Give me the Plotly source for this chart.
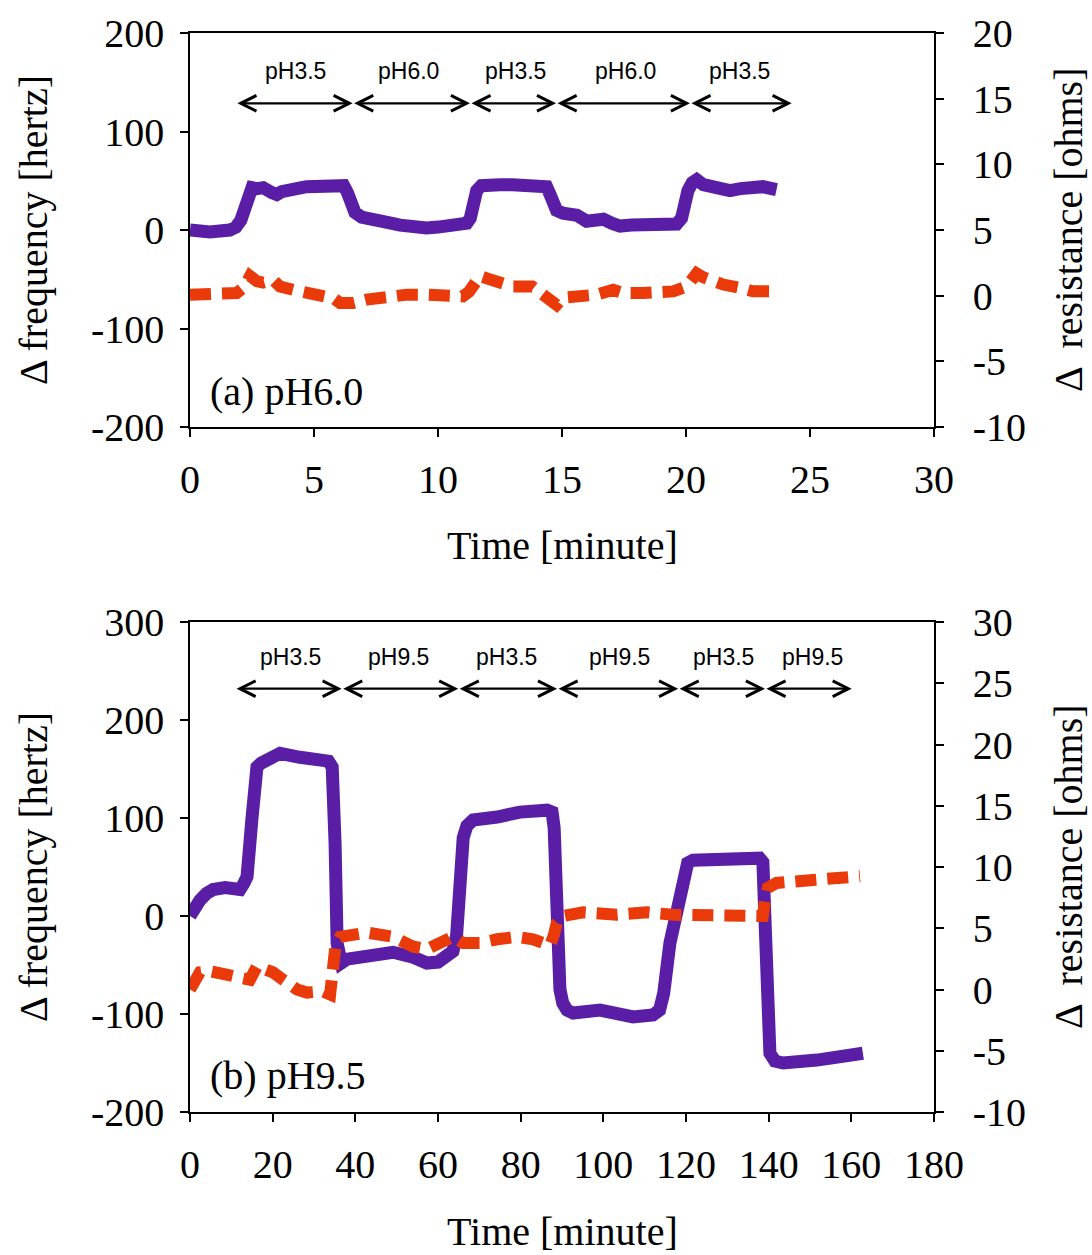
import plotly.graph_objects as go

# ---------------- Data ----------------
# Panel (a): pH6.0 baseline
time_a_freq = [0, 0.8, 1.6, 1.85, 2.05, 2.2, 2.35, 2.5, 2.7, 2.95, 3.3, 3.5, 3.7, 3.9, 4.3, 4.7,
               5.0, 5.37, 5.7, 6.05, 6.2, 6.35, 6.5, 6.65, 6.92, 7.3, 7.66, 8.1, 8.47, 9.0, 9.54,
               10.0, 10.35, 10.8, 11.16, 11.3, 11.42, 11.56, 11.75, 11.96, 12.5, 13.0, 13.6, 14.2,
               14.38, 14.52, 14.65, 14.78, 15.04, 15.3, 15.6, 15.99, 16.3, 16.67, 17.0, 17.34,
               17.8, 18.55, 19.2, 19.62, 19.82, 19.95, 20.08, 20.25, 20.43, 20.7, 20.97, 21.4,
               21.77, 22.2, 22.58, 23.1, 23.65]
freq_a = [0, -2, 0, 3, 10, 19, 32, 43, 42, 43, 38, 36, 39, 41, 42, 44,
          44, 46, 45, 47, 45, 38, 27, 18, 13, 12, 9, 7, 5, 3, 2,
          3, 5, 6, 7, 12, 25, 40, 45, 46, 46, 46, 46, 47,
          44, 36, 26, 20, 17, 17, 15, 9, 10, 11, 7, 4,
          5, 5, 5, 6, 12, 28, 40, 48, 51, 46, 44, 42,
          40, 42, 44, 44, 41]

time_a_res = [0, 0.67, 1.08, 1.6, 1.88, 2.2, 2.42, 2.7, 2.95, 3.35, 3.63, 4.16, 4.84, 5.5, 5.8, 6.05,
              6.58, 7.12, 7.93, 8.74, 9.54, 10.35, 11.0, 11.25, 11.5, 11.69, 12.0, 12.37, 13.0, 13.8,
              14.2, 14.5, 14.78, 15.04, 15.85, 16.4, 17.06, 17.47, 18.27, 18.95, 19.48, 20.03,
              20.25, 20.43, 20.7, 20.97, 21.5, 22.18, 22.7, 23.4]
res_a = [0.08, 0.08, 0.08, 0.1, 0.2, 0.7, 1.5, 1.1, 1.0, 1.2, 0.7, 0.45, 0.2, 0.08, -0.2, -0.55,
         -0.55, -0.3, -0.05, 0.08, 0.08, -0.05, -0.05, 0.3, 0.9, 1.5, 1.3, 1.0, 0.7, 0.7,
         0.2, -0.3, -0.7, -0.15, -0.05, 0.08, 0.45, 0.2, 0.2, 0.33, 0.33, 0.7,
         1.2, 1.7, 1.4, 1.2, 0.85, 0.6, 0.33, 0.33]

# Panel (b): pH9.5 baseline
time_b_freq = [0, 1.0, 2.4, 4.0, 5.6, 8.5, 12.1, 13.0, 13.8, 15.0, 16.2, 17.2, 18.6, 21.8, 26.6,
               31.5, 33.5, 34.4, 34.8, 35.1, 35.6, 36.0, 36.6, 38.0, 42.8, 49.1, 54.0, 57.3, 60.0,
               62.2, 63.6, 64.5, 65.3, 66.1, 67.0, 68.5, 74.3, 79.8, 86.4, 87.6, 88.1, 88.8, 89.5,
               90.2, 91.2, 92.7, 99.2, 107.2, 112.0, 113.6, 114.6, 116.1, 117.8, 119.3, 120.4,
               121.7, 132.3, 137.8, 138.6, 139.0, 139.6, 140.3, 141.5, 143.5, 151.7, 162.8]
freq_b = [0, 9, 16, 23, 27, 29, 27, 33, 40, 100, 152, 156, 159, 166, 162,
          159, 158, 152, 120, 74, -28, -42, -48, -44, -40, -37, -42, -48, -47,
          -42, -36, -20, 40, 80, 92, 98, 101, 106, 108, 106, 90, -28, -75,
          -89, -96, -99, -96, -103, -101, -96, -79, -28, 6, 47, 54,
          57, 60, 59, 55, 0, -62, -140, -148, -150, -147, -140]

time_b_res = [0, 1.0, 2.4, 4.8, 10.4, 14.5, 16.2, 20.1, 22.5, 25.9, 28.3, 32.2, 33.9, 34.4, 35.2,
              36.3, 42.8, 49.1, 54.0, 57.3, 60.5, 63.6, 66.1, 70.2, 74.3, 79.1, 83.0, 87.1, 88.0,
              88.7, 90.3, 95.1, 103.2, 110.5, 116.9, 124.2, 132.3, 138.6, 139.1, 139.8, 141.9,
              147.6, 154.0, 162.1]
res_b = [0, 0.8, 1.4, 1.5, 1.1, 0.8, 1.9, 1.4, 0.8, 0, -0.25, -0.15, -0.4, 2.2, 3.6,
         4.3, 4.65, 4.3, 3.5, 3.3, 3.8, 4.3, 3.8, 3.8, 4.1, 4.3, 4.1, 3.6, 4.4,
         5.4, 6.0, 6.3, 6.1, 6.3, 6.1, 6.0, 5.85, 6.0, 7.2, 8.3, 8.7,
         8.85, 9.0, 9.25]

# Phase boundaries (minutes) and labels
phase_a_bounds = [1.85, 6.56, 11.29, 14.76, 20.16, 24.26]
phase_a_labels = ["pH3.5", "pH6.0", "pH3.5", "pH6.0", "pH3.5"]
phase_a_label_t = [4.27, 8.83, 13.14, 17.57, 22.14]
phase_b_bounds = [10.9, 36.7, 64.9, 88.8, 118.1, 139.1, 160.1]
phase_b_labels = ["pH3.5", "pH9.5", "pH3.5", "pH9.5", "pH3.5", "pH9.5"]
phase_b_label_t = [24.2, 50.4, 76.6, 104.0, 129.0, 150.6]

# Axis ticks
xa_ticks = [0, 5, 10, 15, 20, 25, 30]
xb_ticks = [0, 20, 40, 60, 80, 100, 120, 140, 160, 180]
ya_ticks = [-200, -100, 0, 100, 200]
ya2_ticks = [-10, -5, 0, 5, 10, 15, 20]
yb_ticks = [-200, -100, 0, 100, 200, 300]
yb2_ticks = [-10, -5, 0, 5, 10, 15, 20, 25, 30]

PURPLE = "#5A1EA6"
ORANGE = "#EA3A09"
SERIF = "Liberation Serif, Times New Roman, serif"
SANS = "Liberation Sans, Arial, sans-serif"
FS = 40
DASH = "21px,11px"

fig = go.Figure()
fig.add_trace(go.Scatter(x=time_a_freq, y=freq_a, xaxis="x", yaxis="y", mode="lines",
                         line=dict(color=PURPLE, width=13), showlegend=False))
fig.add_trace(go.Scatter(x=time_a_res, y=res_a, xaxis="x", yaxis="y2", mode="lines",
                         line=dict(color=ORANGE, width=12, dash=DASH), showlegend=False))
fig.add_trace(go.Scatter(x=time_b_freq, y=freq_b, xaxis="x2", yaxis="y3", mode="lines",
                         line=dict(color=PURPLE, width=13), showlegend=False))
fig.add_trace(go.Scatter(x=time_b_res, y=res_b, xaxis="x2", yaxis="y4", mode="lines",
                         line=dict(color=ORANGE, width=12, dash=DASH), showlegend=False))


def lab(v):
    return [str(x) for x in v]


axis_common = dict(showline=True, linecolor="black", linewidth=1.5, ticks="outside",
                   ticklen=8, tickwidth=1.5, tickcolor="black", showgrid=False,
                   zeroline=False, tickfont=dict(family=SERIF, size=FS, color="black"))

top_dom = [0.6348, 1.0]
bot_dom = [0.0, 0.4541]

fig.update_layout(
    width=1092, height=1255,
    margin=dict(l=190, r=158, t=33, b=143),
    paper_bgcolor="white", plot_bgcolor="white",
    xaxis=dict(domain=[0, 1], anchor="y", range=[0, 30], tickvals=xa_ticks, ticktext=lab(xa_ticks),
               mirror=True, ticklabelstandoff=8, **axis_common),
    yaxis=dict(domain=top_dom, anchor="x", range=[-200, 200], tickvals=ya_ticks,
               ticktext=lab(ya_ticks), ticklabelstandoff=8, **axis_common),
    yaxis2=dict(overlaying="y", side="right", anchor="x", range=[-10, 20], tickvals=ya2_ticks,
                ticktext=lab(ya2_ticks), ticklabelstandoff=21, **axis_common),
    xaxis2=dict(domain=[0, 1], anchor="y3", range=[0, 180], tickvals=xb_ticks, ticktext=lab(xb_ticks),
                mirror=True, ticklabelstandoff=8, **axis_common),
    yaxis3=dict(domain=bot_dom, anchor="x2", range=[-200, 300], tickvals=yb_ticks,
                ticktext=lab(yb_ticks), ticklabelstandoff=8, **axis_common),
    yaxis4=dict(overlaying="y3", side="right", anchor="x2", range=[-10, 30], tickvals=yb2_ticks,
                ticktext=lab(yb2_ticks), ticklabelstandoff=21, **axis_common),
)

annotations = []


def add_phases(bounds, labels, label_t, xref, yref, arrow_y, label_y):
    for i in range(len(bounds) - 1):
        annotations.append(dict(
            x=bounds[i + 1], y=arrow_y, ax=bounds[i], ay=arrow_y,
            xref=xref, yref=yref, axref=xref, ayref=yref,
            text="", showarrow=True, arrowhead=5, startarrowhead=5, arrowside="end+start",
            arrowwidth=2.2, arrowsize=1.4, startarrowsize=1.4, arrowcolor="black",
            standoff=0, startstandoff=0))
    for t, s in zip(label_t, labels):
        annotations.append(dict(x=t, y=label_y, xref=xref, yref=yref, text=s, showarrow=False,
                                font=dict(family=SANS, size=23, color="black"),
                                xanchor="center", yanchor="middle"))


add_phases(phase_a_bounds, phase_a_labels, phase_a_label_t, "x", "y", 128.6, 161)
add_phases(phase_b_bounds, phase_b_labels, phase_b_label_t, "x2", "y3", 232, 264)

# panel labels
annotations.append(dict(x=0.024, y=0.091, xref="x domain", yref="y domain", text="(a) pH6.0",
                        showarrow=False, xanchor="left", yanchor="middle",
                        font=dict(family=SERIF, size=FS, color="black")))
annotations.append(dict(x=0.024, y=0.0755, xref="x2 domain", yref="y3 domain", text="(b) pH9.5",
                        showarrow=False, xanchor="left", yanchor="middle",
                        font=dict(family=SERIF, size=FS, color="black")))

# axis titles
for yref in ["y domain", "y3 domain"]:
    annotations.append(dict(x=(33 - 190) / 744, y=0.5, xref="paper", yref=yref,
                            text="Δ frequency [hertz]", textangle=-90, showarrow=False,
                            xanchor="center", yanchor="middle",
                            font=dict(family=SERIF, size=FS, color="black")))
    annotations.append(dict(x=(1068 - 190) / 744, y=0.5, xref="paper", yref=yref,
                            text="Δ  resistance [ohms]", textangle=-90, showarrow=False,
                            xanchor="center", yanchor="middle",
                            font=dict(family=SERIF, size=FS, color="black")))
for yp in [(1112 - 545) / 1079, (1112 - 1231) / 1079]:
    annotations.append(dict(x=0.5, y=yp, xref="paper", yref="paper", text="Time [minute]",
                            showarrow=False, xanchor="center", yanchor="middle",
                            font=dict(family=SERIF, size=FS, color="black")))

fig.update_layout(annotations=annotations)

fig.write_html("out.html")
